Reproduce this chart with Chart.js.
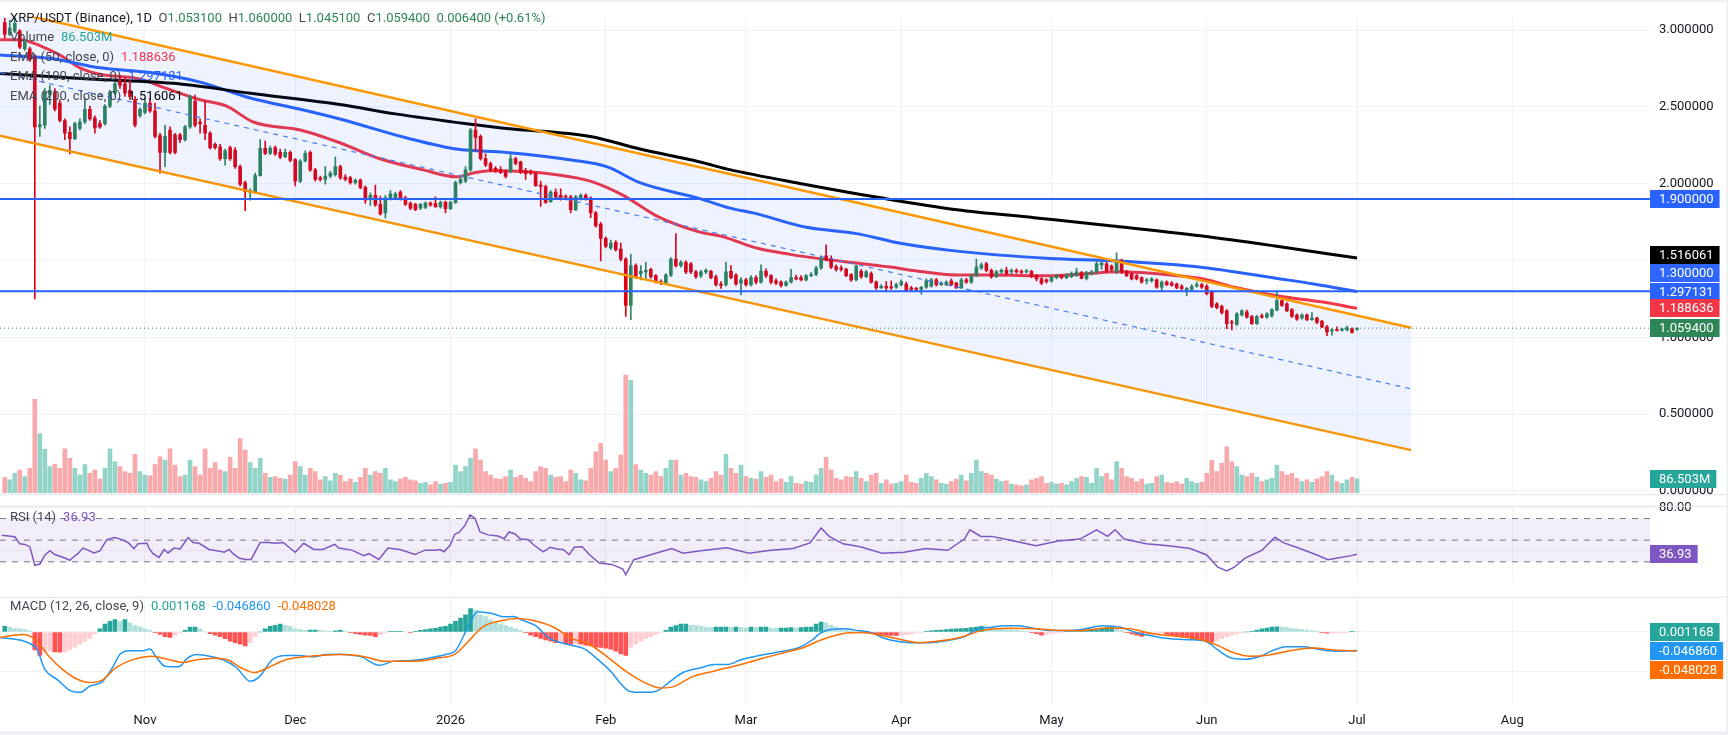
<!DOCTYPE html>
<html>
<head>
<meta charset="utf-8">
<script src="https://cdn.jsdelivr.net/npm/chart.js@4.4.1/dist/chart.umd.min.js"></script>
<style>
  html, body { margin: 0; padding: 0; background: #fff; }
  #wrap { position: relative; width: 1728px; height: 735px; overflow: hidden; background: #fff; font-family: Roboto, "Open Sans", sans-serif; }
  canvas { position: absolute; left: 0; }
  .lg { position: absolute; left: 10px; font-size: 13px; line-height: 19.5px; color: #434651; white-space: nowrap; z-index: 5; }
  .lg .k { margin-left: 6.5px; }
  .lg .v { margin-left: 7px; }
  .band { position: absolute; background: #eef0f4; z-index: 6; }
</style>
</head>
<body>
<div id="wrap">
  <canvas id="price" width="1728" height="510" style="top:0px"></canvas>
  <canvas id="rsi" width="1728" height="110" style="top:489px"></canvas>
  <canvas id="macd" width="1728" height="155" style="top:580px"></canvas>

  <div class="lg" style="top:8px">
    <span style="color:#131722">XRP/USDT (Binance), 1D</span><span class="k">O</span><span class="g">1.053100</span><span class="k">H</span><span class="g">1.060000</span><span class="k">L</span><span class="g">1.045100</span><span class="k">C</span><span class="g">1.059400</span><span class="k g">0.006400 (+0.61%)</span>
  </div>
  <div class="lg" style="top:27px">Volume<span class="v" style="color:#26a69a">86.503M</span></div>
  <div class="lg" style="top:46.5px">EMA (50, close, 0)<span class="v" style="color:#f23645">1.188636</span></div>
  <div class="lg" style="top:66px">EMA (100, close, 0)<span class="v" style="color:#2962ff">1.297131</span></div>
  <div class="lg" style="top:85.5px">EMA (200, close, 0)<span class="v" style="color:#000">1.516061</span></div>
  <div class="lg" style="top:507px">RSI (14)<span class="v" style="color:#7e57c2">36.93</span></div>
  <div class="lg" style="top:596px">MACD (12, 26, close, 9)<span class="v" style="color:#26a69a">0.001168</span><span class="v" style="color:#2196f3">-0.046860</span><span class="v" style="color:#ff6d00">-0.048028</span></div>

  <div class="band" style="left:0;top:0;width:1728px;height:2px"></div>
  <div class="band" style="left:0;top:731px;width:1728px;height:4px"></div>
  <div class="band" style="left:1726px;top:0;width:2px;height:735px"></div>
</div>
<script>
const FONT = 'Roboto, "Open Sans", sans-serif';
const UP = '#2e8556', DOWN = '#e3000b';
document.querySelectorAll('.g').forEach(e => e.style.color = UP);

// day index 0 = 1 Nov 2025, first candle = 4 Oct 2025
const FIRST_DAY = -28;
const X_MIN = -28.95, X_MAX = 300.5;

const monthDays = [0, 30, 61, 92, 120, 151, 181, 212, 242, 273];
const monthLabels = ['Nov', 'Dec', '2026', 'Feb', 'Mar', 'Apr', 'May', 'Jun', 'Jul', 'Aug'];
const priceTicks = [0, 0.5, 1, 1.5, 2, 2.5, 3];

const opens = [
  3.050, 2.973, 2.994, 2.994, 2.879, 2.879, 2.827, 2.370, 2.381, 2.578,
  2.599, 2.526, 2.412, 2.335, 2.294, 2.360, 2.402, 2.485, 2.427, 2.391,
  2.391, 2.505, 2.589, 2.682, 2.651, 2.609, 2.547, 2.443, 2.464, 2.526,
  2.474, 2.314, 2.204, 2.350, 2.319, 2.319, 2.287, 2.370, 2.537, 2.402,
  2.381, 2.329, 2.256, 2.240, 2.163, 2.235, 2.219, 2.111, 2.007, 1.945,
  1.949, 2.053, 2.231, 2.198, 2.235, 2.204, 2.177, 2.204, 2.157, 2.017,
  2.148, 2.204, 2.090, 2.038, 2.028, 2.049, 2.059, 2.111, 2.043, 2.038,
  2.007, 2.024, 1.976, 1.897, 1.924, 1.866, 1.810, 1.908, 1.908, 1.945,
  1.908, 1.872, 1.866, 1.841, 1.845, 1.874, 1.870, 1.850, 1.879, 1.837,
  1.876, 2.007, 2.018, 2.090, 2.350, 2.308, 2.163, 2.132, 2.101, 2.094,
  2.080, 2.080, 2.163, 2.142, 2.086, 2.080, 2.065, 1.991, 1.982, 1.883,
  1.945, 1.924, 1.920, 1.914, 1.831, 1.903, 1.924, 1.908, 1.810, 1.737,
  1.644, 1.582, 1.619, 1.575, 1.509, 1.207, 1.467, 1.415, 1.426, 1.442,
  1.401, 1.363, 1.353, 1.405, 1.509, 1.467, 1.488, 1.478, 1.426, 1.401,
  1.426, 1.430, 1.394, 1.347, 1.343, 1.430, 1.405, 1.353, 1.374, 1.343,
  1.388, 1.359, 1.430, 1.401, 1.367, 1.359, 1.338, 1.359, 1.388, 1.388,
  1.374, 1.401, 1.409, 1.451, 1.530, 1.513, 1.461, 1.451, 1.442, 1.409,
  1.374, 1.430, 1.395, 1.415, 1.359, 1.322, 1.332, 1.326, 1.326, 1.343,
  1.347, 1.322, 1.318, 1.311, 1.326, 1.332, 1.374, 1.343, 1.343, 1.367,
  1.353, 1.322, 1.374, 1.359, 1.401, 1.451, 1.478, 1.436, 1.395, 1.426,
  1.436, 1.426, 1.436, 1.430, 1.426, 1.430, 1.401, 1.380, 1.374, 1.367,
  1.388, 1.401, 1.388, 1.394, 1.405, 1.422, 1.384, 1.415, 1.426, 1.471,
  1.478, 1.463, 1.426, 1.498, 1.430, 1.415, 1.401, 1.388, 1.367, 1.367,
  1.374, 1.326, 1.359, 1.353, 1.347, 1.332, 1.305, 1.311, 1.332, 1.343,
  1.332, 1.297, 1.218, 1.201, 1.172, 1.097, 1.083, 1.145, 1.166, 1.135,
  1.089, 1.139, 1.131, 1.139, 1.177, 1.239, 1.218, 1.181, 1.145, 1.125,
  1.145, 1.114, 1.125, 1.104, 1.068, 1.041, 1.052, 1.046, 1.048, 1.056,
  1.0531
];
const closes = [
  2.973, 3.014, 3.045, 2.890, 2.931, 2.807, 2.370, 2.385, 2.599, 2.609,
  2.485, 2.412, 2.329, 2.294, 2.391, 2.402, 2.485, 2.422, 2.364, 2.370,
  2.505, 2.599, 2.651, 2.640, 2.589, 2.568, 2.381, 2.485, 2.526, 2.474,
  2.308, 2.204, 2.308, 2.204, 2.204, 2.287, 2.370, 2.568, 2.381, 2.391,
  2.329, 2.235, 2.235, 2.163, 2.215, 2.163, 2.111, 1.997, 1.949, 1.955,
  2.053, 2.231, 2.198, 2.231, 2.194, 2.173, 2.204, 2.152, 2.017, 2.148,
  2.198, 2.090, 2.028, 2.028, 2.049, 2.069, 2.111, 2.038, 2.028, 2.007,
  2.022, 1.976, 1.893, 1.924, 1.862, 1.804, 1.908, 1.935, 1.935, 1.899,
  1.866, 1.841, 1.831, 1.866, 1.874, 1.862, 1.850, 1.879, 1.837, 1.879,
  2.007, 2.028, 2.090, 2.350, 2.302, 2.163, 2.122, 2.090, 2.086, 2.074,
  2.048, 2.163, 2.132, 2.074, 2.065, 2.070, 1.987, 1.982, 1.879, 1.945,
  1.914, 1.903, 1.912, 1.831, 1.914, 1.924, 1.903, 1.810, 1.727, 1.644,
  1.592, 1.613, 1.571, 1.509, 1.207, 1.467, 1.395, 1.430, 1.436, 1.395,
  1.363, 1.353, 1.405, 1.509, 1.467, 1.488, 1.426, 1.426, 1.395, 1.426,
  1.436, 1.388, 1.343, 1.338, 1.426, 1.388, 1.347, 1.374, 1.343, 1.388,
  1.359, 1.430, 1.401, 1.359, 1.353, 1.338, 1.359, 1.388, 1.380, 1.374,
  1.401, 1.409, 1.451, 1.513, 1.505, 1.457, 1.442, 1.442, 1.401, 1.374,
  1.463, 1.395, 1.426, 1.359, 1.322, 1.332, 1.322, 1.322, 1.343, 1.363,
  1.305, 1.311, 1.311, 1.326, 1.367, 1.374, 1.343, 1.353, 1.359, 1.343,
  1.322, 1.374, 1.359, 1.401, 1.457, 1.471, 1.436, 1.395, 1.426, 1.436,
  1.415, 1.436, 1.426, 1.422, 1.432, 1.395, 1.380, 1.353, 1.363, 1.388,
  1.401, 1.388, 1.405, 1.415, 1.426, 1.384, 1.422, 1.426, 1.478, 1.484,
  1.430, 1.442, 1.498, 1.426, 1.401, 1.380, 1.380, 1.359, 1.374, 1.380,
  1.326, 1.359, 1.343, 1.338, 1.322, 1.318, 1.318, 1.332, 1.343, 1.326,
  1.284, 1.201, 1.193, 1.160, 1.089, 1.093, 1.152, 1.172, 1.131, 1.089,
  1.135, 1.131, 1.152, 1.181, 1.239, 1.208, 1.172, 1.135, 1.118, 1.145,
  1.114, 1.125, 1.097, 1.068, 1.035, 1.048, 1.044, 1.052, 1.062, 1.031,
  1.0594
];
const highs = [
  3.077, 3.066, 3.087, 3.004, 2.942, 2.890, 2.842, 2.505, 2.620, 2.640,
  2.620, 2.547, 2.422, 2.370, 2.402, 2.422, 2.560, 2.505, 2.443, 2.412,
  2.516, 2.609, 2.661, 2.703, 2.692, 2.672, 2.568, 2.495, 2.557, 2.557,
  2.526, 2.329, 2.381, 2.370, 2.329, 2.329, 2.381, 2.578, 2.578, 2.422,
  2.537, 2.339, 2.267, 2.256, 2.225, 2.246, 2.235, 2.121, 2.017, 1.966,
  2.069, 2.287, 2.277, 2.246, 2.246, 2.225, 2.225, 2.215, 2.163, 2.157,
  2.215, 2.215, 2.100, 2.049, 2.111, 2.080, 2.173, 2.122, 2.059, 2.048,
  2.032, 2.032, 1.987, 1.941, 1.991, 1.920, 1.924, 1.955, 1.945, 1.955,
  1.920, 1.882, 1.872, 1.872, 1.882, 1.882, 1.914, 1.887, 1.887, 1.887,
  2.018, 2.053, 2.111, 2.360, 2.423, 2.319, 2.194, 2.142, 2.111, 2.111,
  2.090, 2.190, 2.173, 2.148, 2.101, 2.090, 2.074, 2.018, 1.991, 1.955,
  1.966, 1.966, 1.928, 1.924, 1.924, 1.935, 1.935, 1.914, 1.820, 1.748,
  1.654, 1.633, 1.629, 1.613, 1.519, 1.540, 1.478, 1.467, 1.488, 1.451,
  1.409, 1.374, 1.415, 1.519, 1.675, 1.498, 1.498, 1.488, 1.436, 1.436,
  1.446, 1.436, 1.405, 1.363, 1.488, 1.467, 1.415, 1.388, 1.384, 1.401,
  1.401, 1.471, 1.446, 1.409, 1.380, 1.367, 1.367, 1.442, 1.405, 1.401,
  1.409, 1.422, 1.463, 1.530, 1.602, 1.530, 1.471, 1.467, 1.451, 1.415,
  1.471, 1.442, 1.436, 1.426, 1.367, 1.343, 1.363, 1.367, 1.353, 1.374,
  1.359, 1.332, 1.326, 1.332, 1.380, 1.384, 1.384, 1.363, 1.367, 1.380,
  1.359, 1.384, 1.384, 1.409, 1.509, 1.484, 1.488, 1.446, 1.436, 1.446,
  1.457, 1.446, 1.446, 1.440, 1.442, 1.436, 1.409, 1.388, 1.380, 1.394,
  1.409, 1.409, 1.415, 1.426, 1.451, 1.430, 1.430, 1.436, 1.498, 1.488,
  1.488, 1.471, 1.550, 1.509, 1.436, 1.422, 1.409, 1.394, 1.384, 1.388,
  1.380, 1.367, 1.367, 1.363, 1.353, 1.343, 1.326, 1.343, 1.359, 1.351,
  1.343, 1.305, 1.226, 1.210, 1.181, 1.110, 1.160, 1.181, 1.177, 1.143,
  1.143, 1.152, 1.160, 1.187, 1.297, 1.255, 1.226, 1.187, 1.152, 1.152,
  1.152, 1.160, 1.131, 1.110, 1.077, 1.056, 1.068, 1.060, 1.073, 1.062,
  1.0600
];
const lows = [
  2.946, 2.962, 2.983, 2.879, 2.869, 2.796, 1.249, 2.308, 2.360, 2.516,
  2.474, 2.402, 2.287, 2.194, 2.287, 2.350, 2.391, 2.412, 2.329, 2.360,
  2.381, 2.495, 2.578, 2.620, 2.568, 2.547, 2.370, 2.433, 2.454, 2.464,
  2.298, 2.069, 2.111, 2.194, 2.194, 2.267, 2.277, 2.360, 2.370, 2.329,
  2.287, 2.225, 2.225, 2.152, 2.121, 2.152, 2.100, 1.986, 1.824, 1.893,
  1.941, 2.049, 2.190, 2.190, 2.184, 2.163, 2.169, 2.142, 1.986, 2.007,
  2.142, 2.080, 2.017, 2.017, 1.997, 2.038, 2.049, 2.028, 2.018, 1.997,
  1.997, 1.966, 1.872, 1.858, 1.852, 1.795, 1.775, 1.893, 1.899, 1.893,
  1.858, 1.831, 1.824, 1.831, 1.837, 1.852, 1.845, 1.841, 1.810, 1.831,
  1.872, 1.997, 2.007, 2.080, 2.215, 2.153, 2.111, 2.080, 2.074, 2.065,
  2.038, 2.070, 2.122, 2.065, 2.028, 2.059, 1.982, 1.852, 1.872, 1.879,
  1.903, 1.893, 1.903, 1.810, 1.824, 1.893, 1.893, 1.779, 1.717, 1.498,
  1.582, 1.571, 1.561, 1.498, 1.135, 1.114, 1.384, 1.374, 1.374, 1.384,
  1.353, 1.343, 1.343, 1.395, 1.457, 1.457, 1.415, 1.415, 1.384, 1.388,
  1.415, 1.380, 1.332, 1.318, 1.332, 1.380, 1.338, 1.276, 1.332, 1.332,
  1.347, 1.353, 1.388, 1.347, 1.343, 1.326, 1.332, 1.353, 1.374, 1.367,
  1.367, 1.395, 1.401, 1.442, 1.498, 1.446, 1.430, 1.430, 1.395, 1.363,
  1.367, 1.384, 1.388, 1.353, 1.311, 1.318, 1.301, 1.311, 1.318, 1.332,
  1.297, 1.301, 1.301, 1.280, 1.318, 1.326, 1.332, 1.336, 1.336, 1.336,
  1.318, 1.318, 1.351, 1.351, 1.395, 1.442, 1.426, 1.384, 1.388, 1.415,
  1.405, 1.415, 1.417, 1.415, 1.417, 1.388, 1.367, 1.343, 1.353, 1.359,
  1.380, 1.380, 1.380, 1.388, 1.397, 1.380, 1.374, 1.405, 1.415, 1.442,
  1.422, 1.430, 1.415, 1.415, 1.394, 1.374, 1.374, 1.353, 1.347, 1.359,
  1.318, 1.301, 1.336, 1.332, 1.316, 1.309, 1.270, 1.305, 1.326, 1.318,
  1.276, 1.193, 1.185, 1.151, 1.056, 1.048, 1.077, 1.139, 1.125, 1.083,
  1.083, 1.125, 1.125, 1.131, 1.172, 1.201, 1.166, 1.129, 1.110, 1.118,
  1.108, 1.110, 1.089, 1.062, 1.010, 1.014, 1.039, 1.039, 1.041, 1.027,
  1.0451
];
// volume, millions
const volumes = [
  95, 80, 120, 140, 100, 150, 566, 360, 265, 160,
  175, 150, 267, 210, 150, 110, 172, 120, 140, 85,
  150, 267, 190, 160, 130, 120, 235, 130, 110, 105,
  172, 220, 200, 267, 170, 100, 110, 200, 160, 110,
  267, 150, 185, 140, 130, 216, 150, 330, 260, 185,
  150, 210, 120, 95, 100, 90, 85, 110, 190, 160,
  110, 150, 130, 80, 100, 75, 120, 110, 70, 85,
  65, 95, 150, 110, 130, 120, 150, 80, 70, 85,
  95, 80, 75, 60, 65, 50, 70, 55, 60, 65,
  170, 130, 160, 210, 267, 200, 130, 110, 90, 85,
  100, 140, 95, 110, 90, 70, 130, 160, 150, 110,
  95, 100, 70, 140, 120, 80, 75, 150, 250, 300,
  200, 130, 150, 230, 712, 680, 172, 140, 120, 110,
  130, 100, 150, 200, 200, 110, 120, 100, 95, 80,
  70, 90, 130, 110, 235, 150, 120, 170, 100, 90,
  85, 130, 95, 110, 70, 85, 65, 100, 60, 55,
  70, 65, 110, 150, 216, 140, 90, 80, 100, 95,
  130, 90, 70, 110, 120, 60, 80, 55, 60, 70,
  110, 65, 60, 90, 120, 100, 80, 60, 55, 70,
  85, 110, 75, 120, 200, 130, 120, 110, 85, 70,
  75, 55, 50, 45, 50, 80, 90, 100, 60, 65,
  55, 60, 50, 70, 90, 100, 95, 60, 150, 100,
  120, 80, 190, 150, 100, 90, 70, 85, 55, 60,
  100, 110, 65, 60, 70, 55, 90, 70, 60, 65,
  120, 200, 130, 180, 280, 190, 160, 110, 100, 120,
  95, 70, 80, 90, 170, 130, 110, 120, 90, 70,
  80, 65, 85, 100, 130, 110, 70, 60, 80, 95,
  86.503
];
const macdHist = [
  0.014, 0.012, 0.009, 0.008, 0.006, 0.003, -0.045, -0.059, -0.050, -0.047,
  -0.050, -0.051, -0.050, -0.045, -0.038, -0.031, -0.023, -0.016, -0.004, 0.008,
  0.020, 0.027, 0.031, 0.027, 0.031, 0.023, 0.016, 0.012, 0.008, 0.004,
  -0.0016, -0.006, -0.012, -0.014, -0.008, -0.0016, 0.004, 0.012, 0.012, 0.008,
  0.000, -0.004, -0.008, -0.012, -0.017, -0.023, -0.027, -0.031, -0.035, -0.027,
  -0.012, 0.000, 0.008, 0.014, 0.017, 0.020, 0.017, 0.014, 0.008, 0.006,
  0.004, 0.005, 0.005, 0.004, 0.003, 0.0016, 0.003, 0.004, 0.0016, -0.0016,
  -0.004, -0.006, -0.008, -0.009, -0.012, -0.006, -0.0016, 0.001, 0.0016, 0.0016,
  0.000, -0.0016, 0.0016, 0.004, 0.006, 0.008, 0.009, 0.012, 0.014, 0.020,
  0.027, 0.035, 0.043, 0.059, 0.055, 0.043, 0.039, 0.031, 0.023, 0.020,
  0.016, 0.012, 0.008, 0.004, -0.0016, -0.008, -0.012, -0.016, -0.020, -0.023,
  -0.027, -0.027, -0.030, -0.031, -0.030, -0.031, -0.033, -0.035, -0.038, -0.039,
  -0.041, -0.043, -0.0485, -0.055, -0.059, -0.039, -0.031, -0.023, -0.016, -0.012,
  -0.006, -0.0016, 0.004, 0.012, 0.016, 0.020, 0.020, 0.017, 0.016, 0.014,
  0.012, 0.011, 0.012, 0.012, 0.012, 0.011, 0.012, 0.011, 0.010, 0.012,
  0.011, 0.012, 0.012, 0.010, 0.009, 0.010, 0.010, 0.011, 0.010, 0.011,
  0.012, 0.012, 0.020, 0.025, 0.023, 0.017, 0.012, 0.008, 0.005, 0.003,
  0.0016, 0.0005, -0.0016, -0.004, -0.0047, -0.006, -0.008, -0.0086, -0.009, -0.0086,
  -0.006, -0.0047, -0.0023, -0.0008, 0.0016, 0.003, 0.004, 0.005, 0.006, 0.007,
  0.008, 0.0086, 0.009, 0.011, 0.0125, 0.014, 0.0125, 0.010, 0.0086, 0.008,
  0.006, 0.0055, 0.005, 0.003, 0.0016, -0.0016, -0.004, -0.008, -0.006, -0.004,
  -0.0023, -0.0008, 0.0016, 0.003, 0.004, 0.005, 0.005, 0.0055, 0.006, 0.008,
  0.011, 0.0125, 0.010, 0.004, -0.0016, -0.0047, -0.008, -0.011, -0.009, -0.006,
  -0.0047, -0.003, -0.006, -0.009, -0.011, -0.0125, -0.014, -0.016, -0.019, -0.022,
  -0.023, -0.025, -0.022, -0.017, -0.0125, -0.008, -0.0047, -0.0023, 0.000, 0.0016,
  0.005, 0.008, 0.010, 0.012, 0.013, 0.0125, 0.011, 0.009, 0.008, 0.006,
  0.005, 0.003, 0.0016, -0.0016, -0.003, -0.003, -0.003, -0.0016, -0.0008, 0.0016,
  0.001168
];

// EMA lines, read at sample days
const ema50Days = [-28.95, -25, -21, -17, -13, -9, -1, 4.3, 11, 16.3, 21.6, 31, 38.9, 46.9, 55.6, 62.2, 65.6, 68.9, 75.5, 82.2, 88.9, 95.5, 102.2, 110.8, 115.5, 122.1, 128.8, 135.4, 142.1, 148.8, 155.4, 162.1, 168.7, 180.7, 186.7, 194.7, 204.7, 211.3, 218, 226, 235.2, 242];
const ema50Vals = [2.938, 2.938, 2.900, 2.838, 2.755, 2.713, 2.682, 2.620, 2.547, 2.506, 2.402, 2.350, 2.267, 2.163, 2.090, 2.045, 2.070, 2.084, 2.080, 2.059, 2.017, 1.924, 1.789, 1.685, 1.654, 1.581, 1.540, 1.509, 1.484, 1.457, 1.426, 1.405, 1.405, 1.401, 1.411, 1.426, 1.405, 1.380, 1.322, 1.270, 1.229, 1.1886];
const ema100Days = [-28.95, -19, -9, 1, 11, 21, 31, 38.9, 52.3, 62.2, 72.2, 85.5, 92.2, 98.8, 110.8, 116.8, 121.4, 132.1, 142.1, 150.8, 162.1, 180.7, 193.3, 211.2, 226.7, 233.4, 242];
const ema100Vals = [2.838, 2.817, 2.755, 2.724, 2.662, 2.558, 2.485, 2.422, 2.298, 2.226, 2.204, 2.153, 2.111, 2.007, 1.903, 1.841, 1.810, 1.716, 1.675, 1.612, 1.561, 1.513, 1.498, 1.455, 1.380, 1.347, 1.2971];
const ema200Days = [-28.95, -11.2, 6.7, 21, 38.9, 50, 64.2, 72.2, 88.9, 98.8, 110.8, 116.3, 131.6, 146.9, 162.1, 177.5, 192.7, 211.1, 225.3, 242];
const ema200Vals = [2.718, 2.682, 2.651, 2.589, 2.516, 2.455, 2.391, 2.360, 2.308, 2.226, 2.142, 2.095, 1.997, 1.908, 1.831, 1.779, 1.727, 1.659, 1.596, 1.5161];

// parallel channel and levels
const channelDays = [-28.95, 252.8];
const channelUpper = [3.136, 1.062];
const channelLower = [2.312, 0.265];
const channelMid = [2.724, 0.664];
const levels = [1.9, 1.3];
const lastPrice = 1.0594;

// RSI (14)
const rsiDays = [-28.6, -26, -25, -24, -23, -22, -21, -20, -19, -18, -16, -15, -14, -13.4, -12.4, -11.4, -10.2, -9, -7.6, -6, -4.6, -3.4, -2.2, -1.4, 0.4, 0.8, 1.6, 2.8, 3.8, 4.6, 5.8, 7, 8.6, 9.6, 10.8, 12.8, 14.6, 15.8, 16.8, 17.6, 18.8, 20, 21.2, 23, 24.6, 26.2, 27.6, 30, 31.7, 33.7, 35.5, 37.9, 38.7, 41.3, 43.7, 44.7, 46.7, 48.5, 50.9, 53.9, 55.9, 58.1, 58.9, 59.7, 60.9, 61.9, 62.7, 63.9, 64.9, 65.9, 66.9, 68.5, 70.5, 71.7, 72.7, 73.9, 74.9, 76.5, 77.7, 79.5, 80.9, 82.3, 83.5, 84.7, 85.7, 87.3, 88.7, 90.7, 93.2, 95.4, 96, 97.6, 100.8, 105.2, 107.4, 111.8, 116.2, 120.6, 125, 129.4, 132.8, 135, 136.6, 139.4, 142.8, 147.2, 151.6, 155.9, 160.3, 163.6, 164.7, 166.9, 169.1, 173.5, 177.9, 182.3, 186.7, 190, 192.2, 193.7, 195.5, 199.9, 204.3, 208.7, 212, 214.2, 216, 217.5, 219.7, 223, 225.6, 227.4, 230.6, 234, 236.2, 238.4, 240.6, 242];
const rsiVals = [54.5, 53.1, 46.6, 46.1, 44, 27, 27.8, 36.1, 40.3, 36.7, 33.5, 31.4, 35.6, 37.5, 42.7, 40.8, 38.2, 40.1, 50.5, 52.4, 50.5, 47.9, 42.2, 46.6, 47.1, 42.7, 37.5, 34.1, 41.4, 38.2, 42.7, 41.9, 52.4, 47.9, 47.1, 41.4, 40.1, 38.8, 41.4, 37.5, 33.5, 32.2, 32.2, 47.9, 47.9, 47.1, 47.9, 38.8, 47.1, 41.4, 41.4, 46.1, 42.7, 40.8, 35.6, 37.5, 32.2, 42.7, 41.4, 36.7, 40.8, 40.8, 41.4, 39.3, 45.3, 55.7, 57.1, 63.6, 73.3, 70.1, 57.6, 54.9, 53.9, 51.3, 57.6, 55.7, 51.3, 50.5, 45.3, 39.3, 43.5, 41.9, 41.4, 36.7, 43.5, 44, 36.7, 28.8, 27.6, 23.3, 18.1, 32, 36.3, 42.3, 38, 40.6, 43, 38, 40.6, 42.3, 47.5, 61.3, 53.5, 46.6, 44, 38, 38.9, 42.3, 40.6, 51, 59.6, 53.5, 53.5, 49.2, 44.9, 49.2, 51, 59.6, 53.5, 59.6, 51, 46.6, 44.9, 42.3, 36.3, 25, 21.6, 25, 33.7, 40.6, 52.7, 47.5, 42.3, 36.3, 32, 33.7, 35.5, 36.93];
const rsiLevels = [70, 50, 30];

// MACD (12, 26, 9)
const macdDays = [-28.95, -21.8, -20, -17.4, -14.7, -12.9, -11.1, -8.5, -6.7, -4.9, -3.1, -0.4, 1, 2.2, 4, 6.7, 8.5, 10.3, 12.9, 15.6, 18.3, 21, 22.8, 25.4, 28.1, 30.8, 33.4, 36.1, 38.8, 41.5, 43.2, 46.8, 49.5, 53.1, 56.6, 60.2, 62, 63.7, 65.2, 66.4, 69.1, 71.8, 73.6, 75.3, 78, 80.7, 84.3, 87.8, 90.5, 93.2, 94.9, 96.7, 99.4, 102.1, 104.8, 107.4, 111, 113.7, 116.3, 119, 122.6, 126.2, 130.6, 133.3, 134.7, 136.9, 139.5, 142.2, 144.9, 147.6, 150.2, 152.9, 156.5, 160, 163.6, 166.3, 169, 171.6, 174.3, 177.9, 180.5, 185, 187.7, 191.2, 194.8, 197.5, 200.1, 203.7, 208.2, 211.7, 214.4, 217.1, 219.8, 222.4, 225.1, 227.8, 231.3, 234, 237.6, 242];
const macdVals = [-0.014, -0.039, -0.094, -0.121, -0.149, -0.152, -0.137, -0.125, -0.094, -0.055, -0.047, -0.047, -0.043, -0.0625, -0.086, -0.0876, -0.066, -0.057, -0.061, -0.070, -0.090, -0.124, -0.113, -0.070, -0.059, -0.059, -0.0626, -0.057, -0.056, -0.059, -0.0626, -0.084, -0.074, -0.072, -0.066, -0.056, -0.047, -0.008, 0.031, 0.051, 0.047, 0.038, 0.039, 0.030, 0.0157, -0.0157, -0.031, -0.043, -0.070, -0.102, -0.129, -0.149, -0.152, -0.149, -0.125, -0.102, -0.090, -0.082, -0.082, -0.070, -0.059, -0.051, -0.039, -0.0196, -0.004, 0.0063, 0.0079, 0.004, -0.0015, -0.0156, -0.0234, -0.027, -0.027, -0.022, -0.0117, 0.0079, 0.0118, 0.0157, 0.0157, 0.0079, 0.004, 0.004, 0.0079, 0.0157, 0.0118, 0, -0.0077, -0.0156, -0.0195, -0.0234, -0.047, -0.0664, -0.0688, -0.0625, -0.047, -0.0375, -0.0375, -0.043, -0.0485, -0.04686];
const signalDays = [-28.95, -24.5, -21.8, -19.1, -16.5, -13.8, -11.1, -8.5, -5.8, -2.2, 1.4, 4.9, 7.6, 10.3, 13.8, 16.5, 19.2, 21.9, 24.5, 28.1, 31.7, 35.2, 38.8, 42.4, 45, 47.7, 53.1, 58.4, 62, 64.6, 67.3, 70.9, 74.5, 78, 81.6, 85.1, 88.7, 92.3, 95.9, 99.4, 103, 105.7, 109.2, 113.7, 119, 124.4, 127.9, 131.5, 135.1, 139.5, 143.1, 146.7, 151.1, 154.7, 158.2, 162.7, 167.2, 172.5, 177.9, 182.3, 186.8, 192.1, 196.6, 201, 206.4, 210.9, 214.4, 217.1, 220.7, 224.2, 228.7, 233.1, 237.6, 242];
const signalVals = [-0.014, -0.0062, -0.0195, -0.0626, -0.094, -0.117, -0.127, -0.121, -0.090, -0.069, -0.061, -0.070, -0.0766, -0.070, -0.066, -0.070, -0.090, -0.102, -0.090, -0.070, -0.0626, -0.059, -0.057, -0.0595, -0.066, -0.074, -0.074, -0.066, -0.055, -0.0235, 0.0118, 0.0274, 0.0337, 0.0274, 0.0118, -0.0156, -0.031, -0.0626, -0.098, -0.125, -0.141, -0.137, -0.113, -0.098, -0.082, -0.0626, -0.051, -0.039, -0.0196, -0.004, -0.0015, -0.0077, -0.0195, -0.027, -0.0235, -0.014, 0.004, 0.0095, 0.0079, 0.004, 0.004, 0.0102, 0.0079, -0.004, -0.0117, -0.0195, -0.035, -0.051, -0.061, -0.0586, -0.047, -0.0406, -0.0453, -0.048028];

// ---------- helpers ----------
const pts = (xs, ys) => xs.map((x, i) => ({ x: x, y: ys[i] }));
const line = (data, color, width, extra) => Object.assign({
  type: 'line', data: data, borderColor: color, borderWidth: width,
  pointRadius: 0, fill: false, tension: 0
}, extra || {});
const days = opens.map((_, i) => FIRST_DAY + i);
const isUp = days.map((_, i) => closes[i] >= opens[i]);

function xScale(showLabels) {
  return {
    type: 'linear', min: X_MIN, max: X_MAX, offset: false,
    grid: { color: '#f1f2f5', drawTicks: false, offset: false },
    border: { display: false },
    ticks: {
      display: showLabels, padding: 8, color: '#131722', maxRotation: 0, autoSkip: false,
      font: { size: 13, family: FONT },
      callback: (v) => { const k = monthDays.indexOf(v); return k >= 0 ? monthLabels[k] : ''; }
    },
    afterBuildTicks: (s) => { s.ticks = monthDays.map(v => ({ value: v })); },
    afterFit: (s) => { s.height = showLabels ? 28 : 0; }
  };
}
function yScale(min, max, ticks, fmt) {
  return {
    type: 'linear', position: 'right', min: min, max: max,
    grid: { color: '#f1f2f5', drawTicks: false },
    border: { display: false },
    ticks: { padding: 9, color: '#131722', font: { size: 13, family: FONT }, callback: fmt },
    afterBuildTicks: (s) => { s.ticks = ticks.map(v => ({ value: v })); },
    afterFit: (s) => { s.width = 78; }
  };
}

// price tags on the right axis + pane separators
const tagPlugin = {
  id: 'tags',
  afterDraw(chart, args, opts) {
    const { ctx, chartArea } = chart;
    ctx.save();
    ctx.strokeStyle = '#e0e3eb';
    ctx.lineWidth = 1;
    if (opts.sepTop) {
      ctx.beginPath(); ctx.moveTo(0, chartArea.top + 0.5); ctx.lineTo(chart.width, chartArea.top + 0.5); ctx.stroke();
    }
    if (opts.sepBottom) {
      ctx.beginPath(); ctx.moveTo(0, chartArea.bottom + 1.5); ctx.lineTo(chart.width, chartArea.bottom + 1.5); ctx.stroke();
    }
    ctx.font = '13px ' + FONT;
    ctx.textBaseline = 'middle';
    (opts.items || []).forEach(t => {
      const y = chart.scales[t.axis].getPixelForValue(t.value) + (t.dy || 0);
      const w = ctx.measureText(t.text).width + 15;
      ctx.fillStyle = t.bg;
      ctx.fillRect(chartArea.right, Math.round(y - 9), w, 18);
      ctx.fillStyle = '#ffffff';
      ctx.fillText(t.text, chartArea.right + 9, Math.round(y) + 0.5);
    });
    ctx.restore();
  }
};

const common = {
  responsive: false, animation: false, events: [],
  plugins: { legend: { display: false }, tooltip: { enabled: false } }
};

// ---------- price + volume ----------
new Chart(document.getElementById('price'), {
  type: 'line',
  data: {
    datasets: [
      {
        type: 'bar', yAxisID: 'yv', order: 20, grouped: false, barThickness: 4,
        data: days.map((d, i) => ({ x: d, y: volumes[i] })),
        backgroundColor: isUp.map(u => u ? '#93d4c9' : '#f7a9ab')
      },
      line(pts(ema200Days, ema200Vals), '#000000', 3, { order: 8, cubicInterpolationMode: 'monotone' }),
      line(pts(ema100Days, ema100Vals), '#2962ff', 3, { order: 8, cubicInterpolationMode: 'monotone' }),
      line(pts(ema50Days, ema50Vals), '#f23645', 3, { order: 8, cubicInterpolationMode: 'monotone' }),
      {
        type: 'bar', order: 6, grouped: false, barThickness: 1,
        data: days.map((d, i) => ({ x: d, y: [lows[i], highs[i]] })),
        backgroundColor: isUp.map(u => u ? UP : DOWN)
      },
      {
        type: 'bar', order: 5, grouped: false, barThickness: 3, minBarLength: 1,
        data: days.map((d, i) => ({ x: d, y: [opens[i], closes[i]] })),
        backgroundColor: isUp.map(u => u ? UP : DOWN)
      },
      line(pts(channelDays, channelUpper), '#ff9800', 2.5, { order: 3, fill: '+1', backgroundColor: 'rgba(41,98,255,0.08)' }),
      line(pts(channelDays, channelLower), '#ff9800', 2.5, { order: 3 }),
      line(pts(channelDays, channelMid), '#4f7ff2', 1.2, { order: 3, borderDash: [5, 5] }),
      line(pts([X_MIN, X_MAX], [levels[0], levels[0]]), '#2962ff', 2, { order: 2 }),
      line(pts([X_MIN, X_MAX], [levels[1], levels[1]]), '#2962ff', 2, { order: 2 }),
      line(pts([X_MIN, X_MAX], [lastPrice, lastPrice]), UP, 1, { order: 2, borderDash: [1, 3] })
    ]
  },
  options: Object.assign({}, common, {
    layout: { padding: { top: 0, left: 0, right: 0, bottom: 12 } },
    scales: {
      x: xScale(false),
      y: yScale(-0.0156, 3.0872, priceTicks, v => v.toFixed(6)),
      yv: { display: false, min: 0, max: 2873 }
    },
    plugins: Object.assign({}, common.plugins, {
      tags: {
        sepBottom: true,
        items: [
          { axis: 'y', value: levels[0], text: '1.900000', bg: '#2962ff' },
          { axis: 'y', value: 1.516061, text: '1.516061', bg: '#000000', dy: -3 },
          { axis: 'y', value: levels[1], text: '1.300000', bg: '#2f66ff', dy: -18.5 },
          { axis: 'y', value: 1.297131, text: '1.297131', bg: '#2962ff' },
          { axis: 'y', value: 1.188636, text: '1.188636', bg: '#f23645' },
          { axis: 'y', value: lastPrice, text: '1.059400', bg: UP },
          { axis: 'yv', value: 86.503, text: '86.503M', bg: '#26a69a' }
        ]
      }
    })
  }),
  plugins: [tagPlugin]
});

// ---------- RSI ----------
new Chart(document.getElementById('rsi'), {
  type: 'line',
  data: {
    datasets: [
      line(pts([X_MIN, X_MAX], [rsiLevels[0], rsiLevels[0]]), '#787b86', 1, { borderDash: [6, 6], fill: '+2', backgroundColor: 'rgba(126,87,194,0.1)', order: 5 }),
      line(pts([X_MIN, X_MAX], [rsiLevels[1], rsiLevels[1]]), '#787b86', 1, { borderDash: [6, 6], order: 5 }),
      line(pts([X_MIN, X_MAX], [rsiLevels[2], rsiLevels[2]]), '#787b86', 1, { borderDash: [6, 6], order: 5 }),
      line(pts(rsiDays, rsiVals), '#7e57c2', 1.5, { order: 1 })
    ]
  },
  options: Object.assign({}, common, {
    layout: { padding: { top: 10, left: 0, right: 0, bottom: 10 } },
    scales: {
      x: xScale(false),
      y: yScale(11.17, 81.76, [40, 80], v => v === 80 ? '80.00' : '')
    },
    plugins: Object.assign({}, common.plugins, {
      tags: { sepTop: true, items: [{ axis: 'y', value: 36.93, text: '36.93', bg: '#7e57c2' }] }
    })
  }),
  plugins: [tagPlugin]
});

// ---------- MACD ----------
new Chart(document.getElementById('macd'), {
  type: 'line',
  data: {
    datasets: [
      {
        type: 'bar', order: 5, grouped: false, barThickness: 4,
        data: days.map((d, i) => ({ x: d, y: macdHist[i] })),
        backgroundColor: macdHist.map((v, i) => {
          const prev = i > 0 ? macdHist[i - 1] : v;
          if (v >= 0) return v >= prev ? '#26a69a' : '#b2dfdb';
          return v < prev ? '#ff5252' : '#ffcdd2';
        })
      },
      line(pts(macdDays, macdVals), '#2196f3', 1.5, { order: 2, cubicInterpolationMode: 'monotone' }),
      line(pts(signalDays, signalVals), '#ff6d00', 1.5, { order: 1, cubicInterpolationMode: 'monotone' })
    ]
  },
  options: Object.assign({}, common, {
    layout: { padding: { top: 9, left: 0, right: 0, bottom: 2 } },
    scales: {
      x: xScale(true),
      y: yScale(-0.1838, 0.0885, [-0.1, 0], () => '')
    },
    plugins: Object.assign({}, common.plugins, {
      tags: {
        sepTop: true,
        items: [
          { axis: 'y', value: 0.001168, text: '0.001168', bg: '#26a69a' },
          { axis: 'y', value: -0.04686, text: '-0.046860', bg: '#2196f3' },
          { axis: 'y', value: -0.048028, text: '-0.048028', bg: '#ff6d00', dy: 19 }
        ]
      }
    })
  }),
  plugins: [tagPlugin]
});
</script>
</body>
</html>
